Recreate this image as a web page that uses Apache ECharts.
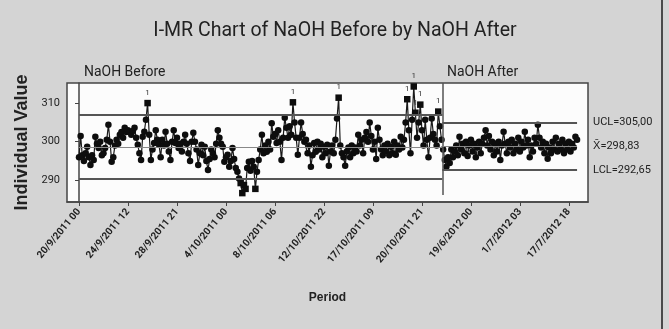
<!DOCTYPE html>
<html><head><meta charset="utf-8">
<script src="https://cdn.jsdelivr.net/npm/echarts@6/dist/echarts.min.js"></script>
<style>html,body{margin:0;padding:0;background:#d4d4d4;overflow:hidden}#c{width:669px;height:329px}</style>
</head><body><div id="c"></div>
<script>
const chartTitle = 'I-MR Chart of NaOH Before by NaOH After';
const stageNames = ['NaOH Before', 'NaOH After'];
const yAxisName = 'Individual Value';
const xAxisName = 'Period';
const beforeValues = [
 296, 301.5, 296.5, 295, 297, 298.7, 296, 294, 296.5, 295.3,
 301.3, 299.5, 298.4, 300, 296.5, 297, 298.4, 300.5, 304.4, 300,
 294.8, 296, 299, 300.5, 299.5, 301.8, 302.5, 301, 303.6, 302.5,
 303, 302.5, 301.8, 302.8, 303.6, 301, 299.2, 297, 295.3, 301.3,
 302.6, 305.7, 310, 301.8, 295.3, 298, 299.7, 303, 300.5, 299.2,
 296, 300.5, 299, 302.6, 299.5, 297.5, 295.3, 300, 303, 299.7,
 301, 298.4, 299.5, 297.5, 300, 301.8, 299.5, 297, 295, 300,
 302.3, 300, 298, 294, 297, 299.2, 296.5, 298.7, 295, 292.7,
 295.5, 298, 297, 296, 299.5, 303, 301, 299.5, 298.7, 294.8,
 296, 296.6, 293.5, 295, 298.4, 295.5, 293.2, 292.2, 290.5, 289.3,
 286.7, 288.8, 287.8, 293.2, 294.8, 292.5, 295, 293.5, 287.8, 292.2,
 295.3, 298, 301.8, 297, 299, 297.4, 300, 298, 304.8, 301.3,
 302, 299.7, 303, 300, 295.3, 301, 306.2, 303.6, 301, 304,
 301.8, 310.2, 305, 301, 296.6, 301, 305, 302, 300, 300.5,
 297, 299, 293.5, 296.5, 299.7, 297.4, 300, 298, 299.5, 296,
 298.7, 297, 299.2, 293.8, 297.5, 299, 297, 300.5, 306, 311.4,
 299, 297, 296, 293.8, 297.5, 298.5, 296, 299, 297, 298.5,
 297.5, 301.8, 299, 300.5, 297, 301, 302.5, 300, 305, 301.5,
 298, 300, 295.5, 303.6, 300.5, 298, 296.5, 299, 297.5, 299.5,
 296.5, 298.7, 297, 300, 296.6, 299, 298, 301.3, 298.5, 300.5,
 305, 311, 303, 297, 305.7, 314.3, 307.5, 301, 305, 309.6,
 303, 299, 305.7, 300.5, 296, 301, 306, 302, 300.5, 299, 307.8, 304, 300.5
];
const afterValues = [
 298, 295.3, 293.5, 296, 294.5, 298, 296, 297.5, 299, 296.5,
 301.3, 298, 299.5, 297, 300, 296.3, 299, 300.5, 297.5, 299.5,
 296, 298.5, 300, 297, 299.5, 301, 303, 299, 301.5, 298,
 300, 296.5, 299.5, 297.5, 300, 295.3, 299, 302.6, 299.5, 297,
 300, 298.5, 300.5, 297, 299.5, 298, 301, 297.5, 300, 298.5,
 302.6, 299, 300.5, 296, 299, 297.5, 301, 299.5, 304.4, 301,
 298.5, 300, 297, 299.5, 295.6, 298.5, 297, 300, 298, 301,
 297.5, 299.5, 298, 300.5, 297, 299.5, 298, 300, 297.5, 299.5,
 298.5, 301.3, 300.5
];
const tickIndex = [0, 30, 60, 90, 120, 150, 180, 210, 240, 270, 300];
const tickLabels = ['20/9/2011 00', '24/9/2011 12', '28/9/2011 21', '4/10/2011 00', '8/10/2011 06',
  '12/10/2011 22', '17/10/2011 09', '20/10/2011 21', '19/6/2012 00', '1/7/2012 03', '17/7/2012 18'];
const yTicks = [290, 300, 310];
const beforeLimits = [306.9, 298.7, 290.5];   // UCL, mean, LCL
const afterLimits = [305.00, 298.83, 292.65];  // UCL, mean, LCL
const limitLabels = ['UCL=305,00', 'X\u0304=298,83', 'LCL=292,65'];

const NARROW = 'Roboto,"Liberation Sans",sans-serif';
const SANS = '"Liberation Sans","DejaVu Sans",sans-serif';
const Y_MIN = 284.4, Y_MAX = 315.2;
const nB = beforeValues.length, nA = afterValues.length;
const split = nB - 0.5;
const lastIdx = nB + nA - 1;

function pts(values, offset, lim) {
  return values.map((v, k) => {
    const out = v > lim[0] || v < lim[2];
    if (!out) return [offset + k, v];
    return {
      value: [offset + k, v], symbol: 'rect', symbolSize: 6.5,
      label: { show: v > lim[0], formatter: '1', position: 'top', distance: 3, fontSize: 8, color: '#333', fontFamily: NARROW }
    };
  });
}
const limStyle = { color: '#555', width: 1.8, type: 'solid' };
const cStyle = { color: '#888', width: 1, type: 'solid' };

const chart = echarts.init(document.getElementById('c'), null, { renderer: 'canvas' });
chart.setOption({
  backgroundColor: '#d4d4d4',
  animation: false,
  grid: { left: 67, right: 81, top: 83, bottom: 127, show: true, backgroundColor: '#fcfcfc', borderColor: '#444', borderWidth: 1.5 },
  xAxis: {
    type: 'value', min: -7.35, max: 311.7,
    name: xAxisName, nameLocation: 'middle', nameGap: 90,
    nameTextStyle: { fontFamily: SANS, fontWeight: 'bold', fontSize: 12, color: '#222' },
    axisLine: { show: true, lineStyle: { color: '#444', width: 1.5 } },
    axisTick: { show: true, length: 4, lineStyle: { color: '#444' }, customValues: tickIndex },
    axisLabel: {
      customValues: tickIndex, rotate: 50, margin: 8,
      formatter: v => tickLabels[tickIndex.indexOf(v)] || '',
      fontFamily: NARROW, fontSize: 10, fontWeight: 'bold', color: '#222'
    },
    splitLine: { show: false }
  },
  yAxis: {
    type: 'value', min: Y_MIN, max: Y_MAX,
    name: yAxisName, nameLocation: 'middle', nameGap: 28,
    nameTextStyle: { fontFamily: SANS, fontWeight: 'bold', fontSize: 18, color: '#222' },
    axisLine: { show: true, lineStyle: { color: '#444', width: 1.5 } },
    axisTick: { show: true, length: 4, lineStyle: { color: '#444' }, customValues: yTicks },
    axisLabel: { customValues: yTicks, margin: 7, fontFamily: NARROW, fontSize: 11, color: '#222' },
    splitLine: { show: false }
  },
  graphic: [
    { type: 'text', x: 335, y: 31, scaleX: 0.93, style: { text: chartTitle, font: '21px ' + NARROW, fill: '#222', align: 'center', verticalAlign: 'middle' } },
    { type: 'text', x: 84, y: 72, scaleX: 0.93, style: { text: stageNames[0], font: '15px ' + NARROW, fill: '#222', align: 'left', verticalAlign: 'middle' } },
    { type: 'text', x: 447, y: 72, scaleX: 0.93, style: { text: stageNames[1], font: '15px ' + NARROW, fill: '#222', align: 'left', verticalAlign: 'middle' } },
    { type: 'line', shape: { x1: 662, y1: 0, x2: 662, y2: 329 }, style: { stroke: '#4a4a4a', lineWidth: 2 } }
  ],
  series: [
    {
      type: 'line', data: [], z: 1, silent: true,
      markLine: {
        silent: true, symbol: 'none', animation: false,
        label: { show: false },
        data: [
          [{ coord: [0, beforeLimits[0]], lineStyle: limStyle }, { coord: [split, beforeLimits[0]] }],
          [{ coord: [0, beforeLimits[1]], lineStyle: cStyle }, { coord: [split, beforeLimits[1]] }],
          [{ coord: [0, beforeLimits[2]], lineStyle: limStyle }, { coord: [split, beforeLimits[2]] }],
          [{ coord: [split, Y_MAX], lineStyle: { color: '#555', width: 1.5, type: 'solid' } }, { coord: [split, 286.2] }]
        ]
      }
    },
    {
      type: 'line', data: [], z: 1, silent: true,
      markLine: {
        silent: true, symbol: 'none', animation: false,
        label: { show: true, position: 'end', distance: 16, fontFamily: NARROW, fontSize: 11, color: '#222' },
        data: [
          [{ coord: [split, afterLimits[0]], lineStyle: limStyle, label: { formatter: limitLabels[0] } }, { coord: [lastIdx, afterLimits[0]] }],
          [{ coord: [split, afterLimits[1]], lineStyle: cStyle, label: { formatter: limitLabels[1] } }, { coord: [lastIdx, afterLimits[1]] }],
          [{ coord: [split, afterLimits[2]], lineStyle: limStyle, label: { formatter: limitLabels[2] } }, { coord: [lastIdx, afterLimits[2]] }]
        ]
      }
    },
    {
      type: 'line', z: 3, data: pts(beforeValues, 0, beforeLimits),
      symbol: 'circle', symbolSize: 6.5, showAllSymbol: true,
      lineStyle: { color: '#1a1a1a', width: 1.2 }, itemStyle: { color: '#0d0d0d' }
    },
    {
      type: 'line', z: 3, data: pts(afterValues, nB, afterLimits),
      symbol: 'circle', symbolSize: 6.5, showAllSymbol: true,
      lineStyle: { color: '#1a1a1a', width: 1.2 }, itemStyle: { color: '#0d0d0d' }
    }
  ]
});
</script>
</body></html>
